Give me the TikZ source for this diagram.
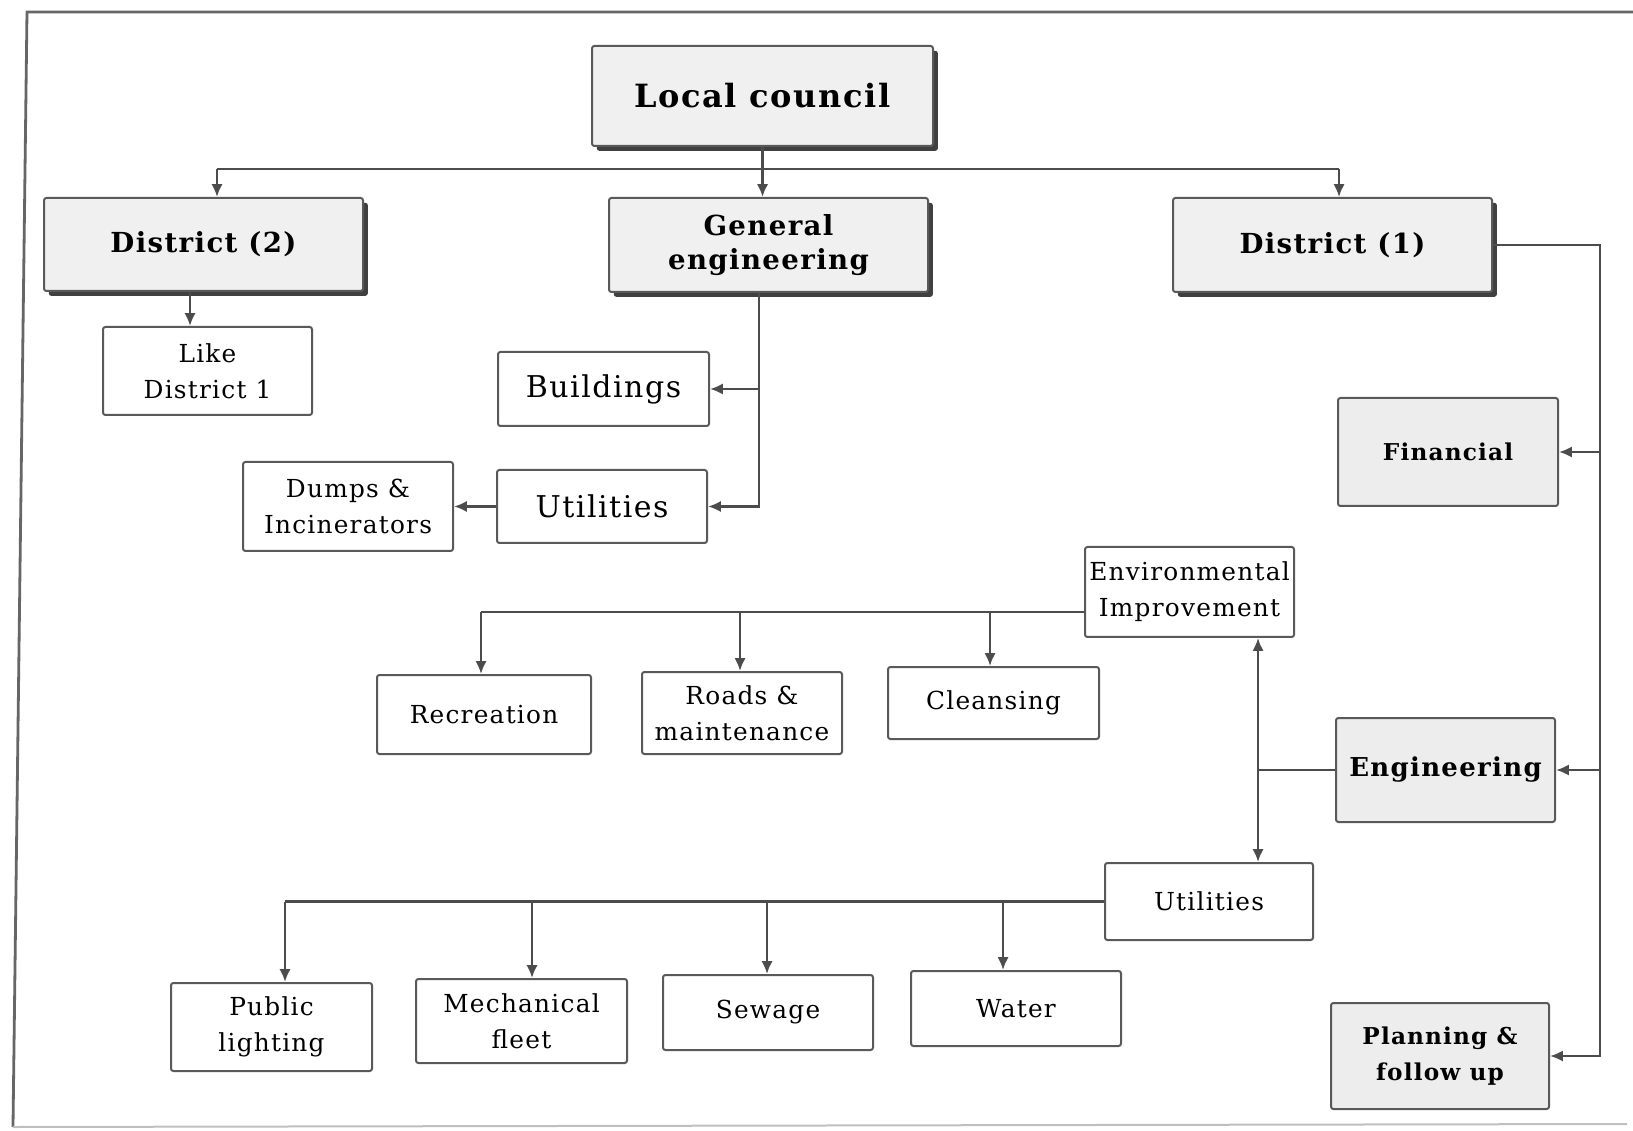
\documentclass[tikz,border=0pt]{standalone}
\usepackage{fontspec}
\setmainfont{DejaVu Serif}
\newfontfamily\lsfont[LetterSpace=5]{DejaVu Serif}
\usetikzlibrary{shadows,arrows.meta,calc}
\newcommand\mybox[7]{\node[#1, minimum width={(#5-#3)*0.25pt}, minimum height={(#6-#4)*0.25pt}] (#2) at ({(#3+#5)/2},{(#4+#6)/2}) {#7};}
\begin{document}
\begin{tikzpicture}[x=0.25pt,y=-0.25pt,
  box/.style={draw=black!65, line width=0.5pt, rounded corners=0.6pt, inner sep=0pt, align=center, fill=white, font=\lsfont\fontsize{6.2}{9}\selectfont},
  bigbox/.style={box, font=\lsfont\fontsize{7.5}{9}\selectfont},
  topbox/.style={box, fill=gray!12, drop shadow={shadow xshift=1.2pt, shadow yshift=-1.2pt, fill=black!75, opacity=1}, font=\lsfont\bfseries\fontsize{6.9}{8.6}\selectfont},
  lcbox/.style={topbox, font=\lsfont\bfseries\fontsize{8}{9}\selectfont},
  speck/.style={box, fill=gray!14, font=\lsfont\bfseries\fontsize{6.5}{9}\selectfont},
  speckS/.style={speck, font=\lsfont\bfseries\fontsize{5.8}{9}\selectfont},
  conn/.style={draw=black!70, line width=0.6pt},
  arr/.style={conn, -{Latex[length=3.2pt,width=2.8pt]}},
  darr/.style={conn, {Latex[length=3.2pt,width=2.8pt]}-{Latex[length=3.2pt,width=2.8pt]}},
  frame/.style={draw=black!60, line width=0.7pt},
  faint/.style={draw=black!25, line width=0.5pt}
]
\path[use as bounding box] (0,0) rectangle (1633,1131);
% outer frame
\draw[frame] (1633,12) -- (27,12) -- (13,1127);
\draw[faint] (13,1127) -- (1627,1124);

% nodes
\mybox{lcbox}{lc}{592}{46}{933}{146}{Local council}
\mybox{topbox}{d2}{44}{198}{363}{291}{District (2)}
\mybox{topbox}{gen}{609}{198}{928}{292}{General\\engineering}
\mybox{topbox}{d1}{1173}{198}{1492}{292}{District (1)}
\mybox{box}{like}{103}{327}{312}{415}{Like\\District 1}
\mybox{bigbox}{bld}{498}{352}{709}{426}{Buildings}
\mybox{bigbox}{ut1}{497}{470}{707}{543}{Utilities}
\mybox{box}{dmp}{243}{462}{453}{551}{Dumps \&\\Incinerators}
\mybox{speckS}{fin}{1338}{398}{1558}{506}{Financial}
\mybox{box}{env}{1085}{547}{1294}{637}{Environmental\\Improvement}
\mybox{box}{rec}{377}{675}{591}{754}{Recreation}
\mybox{box}{rds}{642}{672}{842}{754}{Roads \&\\maintenance}
\mybox{box}{cln}{888}{667}{1099}{739}{Cleansing}
\mybox{speck}{eng}{1336}{718}{1555}{822}{Engineering}
\mybox{box}{ut2}{1105}{863}{1313}{940}{Utilities}
\mybox{box}{pub}{171}{983}{372}{1071}{Public\\lighting}
\mybox{box}{mech}{416}{979}{627}{1063}{Mechanical\\fleet}
\mybox{box}{sew}{663}{975}{873}{1050}{Sewage}
\mybox{box}{wat}{911}{971}{1121}{1046}{Water}
\mybox{speckS}{pln}{1331}{1003}{1549}{1109}{Planning \&\\follow up}

% top distribution
\coordinate (hl) at (217,169);
\coordinate (hr) at (1339,169);
\draw[conn] (hl) -- (hr);
\draw[arr] (hl) -- (hl |- d2.north);
\draw[arr] (hr) -- (hr |- d1.north);
\draw[arr] (lc.south) -- (lc.south |- gen.north);

% district 2
\coordinate (dl) at (190,0);
\draw[arr] (dl |- d2.south) -- (dl |- like.north);

% general engineering
\coordinate (gv) at (759,0);
\draw[arr] (gv |- gen.south) |- (ut1.east);
\draw[arr] (gv |- bld.east) -- (bld.east);
\draw[arr] (ut1.west) -- (dmp.east);

% district 1 right trunk
\coordinate (rv) at (1600,0);
\draw[arr] (d1.east) -| (rv |- pln.east) -- (pln.east);
\draw[arr] (rv |- fin.east) -- (fin.east);
\draw[arr] (rv |- eng.east) -- (eng.east);

% environmental improvement
\coordinate (ey) at ([yshift=-5pt]env.west);
\coordinate (e1) at (481,0);
\coordinate (e2) at (740,0);
\coordinate (e3) at (990,0);
\draw[conn] (ey) -- (e1 |- ey);
\draw[arr] (e1 |- ey) -- (e1 |- rec.north);
\draw[arr] (e2 |- ey) -- (e2 |- rds.north);
\draw[arr] (e3 |- ey) -- (e3 |- cln.north);

% lower utilities
\coordinate (u1) at (285,0);
\coordinate (u2) at (532,0);
\coordinate (u3) at (767,0);
\coordinate (u4) at (1003,0);
\draw[conn] (ut2.west) -- (u1 |- ut2.west);
\draw[arr] (u1 |- ut2.west) -- (u1 |- pub.north);
\draw[arr] (u2 |- ut2.west) -- (u2 |- mech.north);
\draw[arr] (u3 |- ut2.west) -- (u3 |- sew.north);
\draw[arr] (u4 |- ut2.west) -- (u4 |- wat.north);

% env <-> utilities, engineering
\coordinate (dv) at (1258,0);
\draw[darr] (dv |- env.south) -- (dv |- ut2.north);
\draw[conn] (eng.west) -- (dv |- eng.west);
\end{tikzpicture}
\end{document}
